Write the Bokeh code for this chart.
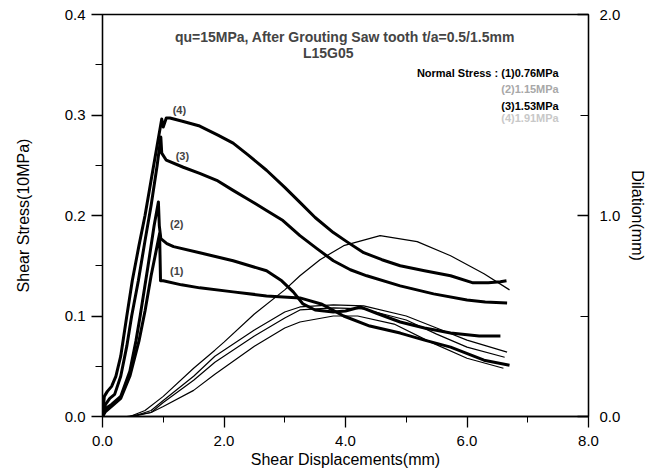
from bokeh.plotting import figure
from bokeh.models import Range1d, LinearAxis, FixedTicker, PrintfTickFormatter, Label
from bokeh.embed import file_html
from bokeh.resources import INLINE

# ---------------- data ----------------
# shear stress curves (10 MPa) vs shear displacement (mm)
x1 = [0, 0.05, 0.15, 0.3, 0.45, 0.6, 0.7, 0.8, 0.9, 0.94, 0.955, 1.0, 1.3, 1.6, 2.15, 2.7, 3.25, 3.6, 3.97, 4.4, 4.9, 5.3, 5.73, 6.28, 6.7]
s1 = [0.0, 0.005, 0.01, 0.018, 0.04, 0.075, 0.105, 0.14, 0.17, 0.182, 0.135, 0.135, 0.131, 0.128, 0.124, 0.12, 0.118, 0.112, 0.10, 0.09, 0.083, 0.076, 0.069, 0.056, 0.051]

x2 = [0, 0.05, 0.15, 0.3, 0.45, 0.55, 0.62, 0.75, 0.85, 0.92, 0.935, 0.96, 1.06, 1.17, 1.6, 2.15, 2.7, 2.95, 3.14, 3.3, 3.5, 3.8, 4.0, 4.24, 4.5, 4.9, 5.3, 5.73, 6.2, 6.55]
s2 = [0.0, 0.008, 0.012, 0.02, 0.045, 0.075, 0.10, 0.15, 0.19, 0.2135, 0.19, 0.177, 0.172, 0.169, 0.163, 0.155, 0.145, 0.135, 0.124, 0.112, 0.106, 0.104, 0.105, 0.109, 0.103, 0.094, 0.088, 0.083, 0.08, 0.08]

x3 = [0, 0.05, 0.12, 0.2, 0.3, 0.4, 0.48, 0.59, 0.7, 0.8, 0.9, 0.96, 0.975, 1.05, 1.33, 1.6, 1.88, 2.15, 2.43, 2.7, 2.97, 3.25, 3.53, 3.8, 4.08, 4.35, 4.9, 5.45, 6.0, 6.3, 6.66]
s3 = [0.0, 0.012, 0.018, 0.022, 0.04, 0.07, 0.10, 0.135, 0.175, 0.21, 0.25, 0.278, 0.262, 0.255, 0.248, 0.242, 0.235, 0.225, 0.215, 0.205, 0.195, 0.18, 0.167, 0.155, 0.146, 0.14, 0.13, 0.122, 0.116, 0.114, 0.113]

x4 = [0, 0.03, 0.08, 0.15, 0.22, 0.3, 0.4, 0.49, 0.6, 0.7, 0.8, 0.9, 0.975, 1.0, 1.05, 1.11, 1.3, 1.6, 1.9, 2.15, 2.4, 2.7, 3.0, 3.25, 3.5, 3.8, 4.02, 4.3, 4.6, 4.9, 5.3, 5.73, 6.1, 6.35, 6.55, 6.65]
s4 = [0.0, 0.02, 0.025, 0.03, 0.04, 0.06, 0.10, 0.135, 0.17, 0.20, 0.235, 0.27, 0.296, 0.288, 0.297, 0.297, 0.294, 0.289, 0.28, 0.272, 0.26, 0.245, 0.228, 0.213, 0.198, 0.183, 0.174, 0.163, 0.156, 0.150, 0.145, 0.14, 0.133, 0.133, 0.134, 0.135]

# dilation curves (mm) vs shear displacement (mm)
dx1 = [0, 0.4, 0.8, 1.0, 1.5, 1.85, 2.5, 3.0, 3.25, 3.8, 4.2, 4.8, 5.4, 6.0, 6.6]
d1 = [0, 0, 0.02, 0.05, 0.13, 0.21, 0.35, 0.44, 0.47, 0.50, 0.50, 0.46, 0.37, 0.29, 0.24]
dx2 = [0, 0.5, 0.8, 1.0, 1.5, 1.85, 2.5, 3.0, 3.25, 3.8, 4.3, 5.0, 5.5, 6.0, 6.62]
d2 = [0, 0, 0.02, 0.07, 0.18, 0.27, 0.40, 0.49, 0.53, 0.54, 0.535, 0.48, 0.41, 0.345, 0.295]
dx3 = [0, 0.5, 0.8, 1.0, 1.5, 1.85, 2.5, 3.0, 3.25, 3.8, 4.3, 5.0, 5.5, 6.0, 6.66]
d3 = [0, 0, 0.03, 0.08, 0.20, 0.30, 0.43, 0.52, 0.545, 0.555, 0.55, 0.50, 0.44, 0.38, 0.32]
dx4 = [0, 0.45, 0.7, 1.0, 1.5, 1.85, 2.0, 2.5, 3.0, 3.25, 3.58, 3.97, 4.57, 5.18, 5.73, 6.28, 6.7]
d4 = [0, 0, 0.03, 0.10, 0.24, 0.33, 0.37, 0.51, 0.63, 0.70, 0.78, 0.85, 0.90, 0.87, 0.80, 0.71, 0.63]

x_ticks = [0, 2, 4, 6, 8]
x_minor = [1, 3, 5, 7]
y_ticks = [0.0, 0.1, 0.2, 0.3, 0.4]
y_minor = [0.05, 0.15, 0.25, 0.35]
r_ticks = [0.0, 1.0, 2.0]
r_minor = [0.5, 1.5]

title1 = "qu=15MPa, After Grouting Saw tooth t/a=0.5/1.5mm"
title2 = "L15G05"
legend_lines = ["Normal Stress : (1)0.76MPa", "(2)1.15MPa", "(3)1.53MPa", "(4)1.91MPa"]
curve_tags = ["(1)", "(2)", "(3)", "(4)"]

# ---------------- figure ----------------
FONT = "Liberation Sans"
p = figure(width=654, height=474, x_range=Range1d(0, 8), y_range=Range1d(0, 0.4),
           output_backend="svg", toolbar_location=None,
           min_border_left=102, min_border_right=66, min_border_top=14, min_border_bottom=58)
p.extra_y_ranges = {"dil": Range1d(0, 2)}
p.xgrid.visible = False
p.ygrid.visible = False
p.outline_line_color = "black"
p.outline_line_width = 1.3
p.background_fill_color = "white"
p.border_fill_color = "white"

def style_axis(ax):
    ax.axis_line_color = "black"
    ax.axis_line_width = 1.3
    ax.major_tick_line_color = "black"
    ax.minor_tick_line_color = "black"
    ax.major_tick_line_width = 1.3
    ax.minor_tick_line_width = 1.0
    ax.major_label_text_font = FONT
    ax.major_label_text_font_size = "15px"
    ax.major_label_text_color = "black"
    ax.axis_label_text_font = FONT
    ax.axis_label_text_font_size = "16px"
    ax.axis_label_text_font_style = "normal"
    ax.axis_label_text_color = "black"

xa = p.xaxis[0]
xa.ticker = FixedTicker(ticks=x_ticks, minor_ticks=x_minor)
xa.formatter = PrintfTickFormatter(format="%.1f")
xa.axis_label = "Shear Displacements(mm)"
style_axis(xa)
xa.major_tick_out = 11
xa.major_tick_in = 0
xa.minor_tick_out = 6
xa.minor_tick_in = 0
xa.major_label_standoff = 8
xa.axis_label_standoff = 2

ya = p.yaxis[0]
ya.ticker = FixedTicker(ticks=y_ticks, minor_ticks=y_minor)
ya.formatter = PrintfTickFormatter(format="%.1f")
ya.axis_label = "Shear Stress(10MPa)"
style_axis(ya)
ya.major_tick_out = 11
ya.major_tick_in = 0
ya.minor_tick_out = 7
ya.minor_tick_in = 0
ya.major_label_standoff = 6
ya.axis_label_standoff = 30

ra = LinearAxis(y_range_name="dil", axis_label="Dilation(mm)",
                ticker=FixedTicker(ticks=r_ticks, minor_ticks=r_minor),
                formatter=PrintfTickFormatter(format="%.1f"))
style_axis(ra)
ra.major_tick_out = 0
ra.major_tick_in = 11
ra.minor_tick_out = 0
ra.minor_tick_in = 8
ra.major_label_standoff = 11
ra.axis_label_standoff = 6
p.add_layout(ra, "right")

# dilation curves (thin)
for dx, dy in [(dx1, d1), (dx2, d2), (dx3, d3), (dx4, d4)]:
    p.line(dx, dy, y_range_name="dil", line_color="black", line_width=1.2)

# shear stress curves (thick, noisy in original)
for sx, sy in [(x1, s1), (x2, s2), (x3, s3), (x4, s4)]:
    p.line(sx, sy, line_color="black", line_width=3, line_join="round")

# texts
p.add_layout(Label(x=3.99, y=0.378, text=title1, text_font=FONT, text_font_size="14px",
                   text_font_style="bold", text_align="center", text_baseline="middle"))
p.add_layout(Label(x=3.30, y=0.3614, text=title2, text_font=FONT, text_font_size="14px",
                   text_font_style="bold", text_align="left", text_baseline="middle"))
leg_y = [0.3415, 0.3256, 0.3089, 0.2967]
leg_col = ["black", "#a8a8a8", "black", "#c8c8c8"]
for t, yy, c in zip(legend_lines, leg_y, leg_col):
    p.add_layout(Label(x=7.51, y=yy, text=t, text_font=FONT, text_font_size="11px",
                       text_font_style="bold", text_align="right", text_baseline="middle",
                       text_color=c))
tag_x = [1.222, 1.222, 1.315, 1.266]
tag_y = [0.1445, 0.192, 0.2591, 0.3049]
for t, xx, yy in zip(curve_tags, tag_x, tag_y):
    p.add_layout(Label(x=xx, y=yy, text=t, text_font=FONT, text_font_size="11px",
                       text_font_style="bold", text_align="center", text_baseline="middle"))

open("out.html", "w").write(file_html(p, INLINE))
